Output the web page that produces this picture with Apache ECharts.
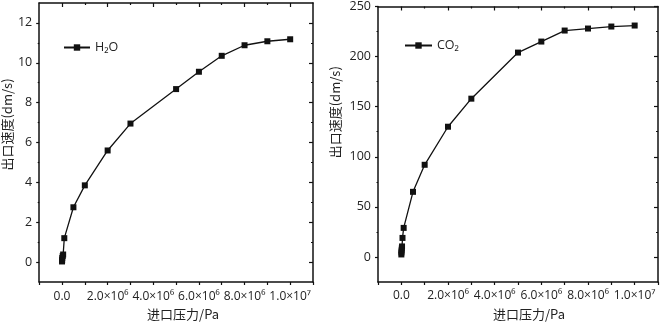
<!DOCTYPE html>
<html><head><meta charset="utf-8">
<script src="https://cdn.jsdelivr.net/npm/echarts@6/dist/echarts.min.js"></script>
<style>html,body{margin:0;padding:0;background:#fff}#c{width:661px;height:326px}</style>
</head><body><div id="c"></div>
<script>
// ---- data ----
const h2oPressure = [1e3, 5e3, 1e4, 3e4, 5e4, 1e5, 5e5, 1e6, 2e6, 3e6, 5e6, 6e6, 7e6, 8e6, 9e6, 1e7];
const h2oVelocity = [0.03, 0.1, 0.2, 0.3, 0.38, 1.2, 2.75, 3.85, 5.6, 6.95, 8.68, 9.55, 10.35, 10.88, 11.08, 11.18];
const co2Pressure = [1e3, 5e3, 1e4, 2e4, 3e4, 5e4, 1e5, 5e5, 1e6, 2e6, 3e6, 5e6, 6e6, 7e6, 8e6, 9e6, 1e7];
const co2Velocity = [2.5, 4.5, 6.5, 8.5, 10.5, 19, 29, 65, 92, 130, 158, 204, 215, 226, 228, 230, 231];

const xTickValues = [0, 2e6, 4e6, 6e6, 8e6, 1e7];
const xTickLabels = ['0.0', '2.0×10⁶', '4.0×10⁶', '6.0×10⁶', '8.0×10⁶', '1.0×10⁷'];
const xMinorValues = [1e6, 3e6, 5e6, 7e6, 9e6];
const h2oYTicks = [0, 2, 4, 6, 8, 10, 12];
const h2oYMinor = [1, 3, 5, 7, 9, 11];
const co2YTicks = [0, 50, 100, 150, 200, 250];
const co2YMinor = [25, 75, 125, 175, 225];

const xName = '进口压力/Pa';
const yName = '出口速度(dm/s)';

// ---- styling helpers ----
const FONT = '"Open Sans", "Noto Sans", sans-serif';
const CJK = '"Noto Sans CJK SC", sans-serif';
const black = '#111';
const lineW = 1.5;

function xAxes(g, nameGap, namePad, labelMargin) {
  return [
    { gridIndex: g, type: 'value', position: 'bottom', min: -1e6, max: 1.1e7, interval: 1e6,
      name: xName, nameLocation: 'middle', nameGap: nameGap,
      nameTextStyle: { fontFamily: CJK, fontSize: 13, color: '#222', padding: namePad },
      axisLine: { onZero: false, lineStyle: { color: black, width: lineW } },
      axisTick: { show: true, inside: false, length: 3, lineStyle: { color: black, width: 1.2 } },
      axisLabel: { margin: labelMargin, fontFamily: FONT, fontSize: 12, color: '#222', showMinLabel: true, showMaxLabel: true,
        formatter: v => { const i = xTickValues.indexOf(v); return i >= 0 ? xTickLabels[i] : ''; } },
      splitLine: { show: false } },
    { gridIndex: g, type: 'value', position: 'top', min: -1e6, max: 1.1e7, interval: 1e6,
      axisLine: { onZero: false, lineStyle: { color: black, width: lineW } },
      axisTick: { show: true, inside: true, length: 4, customValues: xTickValues, lineStyle: { color: black, width: 1.2 } },
      axisLabel: { show: false }, splitLine: { show: false } },
    { gridIndex: g, type: 'value', position: 'top', min: -1e6, max: 1.1e7, interval: 1e6,
      axisLine: { show: false, onZero: false },
      axisTick: { show: true, inside: true, length: 2, customValues: xMinorValues, lineStyle: { color: black, width: 1.2 } },
      axisLabel: { show: false }, splitLine: { show: false } }
  ];
}

function yAxes(g, min, max, interval, ticks, minor, nameGap, namePad) {
  const common = { gridIndex: g, type: 'value', min: min, max: max, interval: interval, splitLine: { show: false } };
  return [
    Object.assign({}, common, { position: 'left',
      name: yName, nameLocation: 'middle', nameGap: nameGap, nameRotate: 90,
      nameTextStyle: { fontFamily: CJK, fontSize: 13, color: '#222', padding: namePad },
      axisLine: { onZero: false, lineStyle: { color: black, width: lineW } },
      axisTick: { show: true, inside: false, length: 3, customValues: ticks, lineStyle: { color: black, width: 1.2 } },
      axisLabel: { margin: 7, fontFamily: FONT, fontSize: 12.5, color: '#222',
        formatter: v => ticks.indexOf(v) >= 0 ? String(v) : '' } }),
    Object.assign({}, common, { position: 'left',
      axisLine: { show: false, onZero: false },
      axisTick: { show: true, inside: false, length: 1.5, customValues: minor, lineStyle: { color: black, width: 1.2 } },
      axisLabel: { show: false } }),
    Object.assign({}, common, { position: 'right',
      axisLine: { onZero: false, lineStyle: { color: black, width: lineW } },
      axisTick: { show: true, inside: true, length: 4, customValues: ticks, lineStyle: { color: black, width: 1.2 } },
      axisLabel: { show: false } }),
    Object.assign({}, common, { position: 'right',
      axisLine: { show: false, onZero: false },
      axisTick: { show: true, inside: true, length: 2, customValues: minor, lineStyle: { color: black, width: 1.2 } },
      axisLabel: { show: false } })
  ];
}

function lineSeries(name, xs, ys, xi, yi) {
  return { name: name, type: 'line', xAxisIndex: xi, yAxisIndex: yi,
    data: xs.map((x, i) => [x, ys[i]]),
    symbol: 'rect', symbolSize: 6, showAllSymbol: true,
    lineStyle: { color: black, width: 1.3 }, itemStyle: { color: black },
    animation: false };
}

const chart = echarts.init(document.getElementById('c'), null, { renderer: 'canvas' });
chart.setOption({
  animation: false,
  backgroundColor: '#fff',
  grid: [
    { left: 33, top: 3, width: 280, height: 279 },
    { left: 378, top: 3, width: 282, height: 282 }
  ],
  legend: [
    { data: ['H₂O'], left: 58, top: 36, itemWidth: 26, itemHeight: 8, itemGap: 4,
      textStyle: { fontFamily: FONT, fontSize: 12.5, color: '#222' } },
    { data: ['CO₂'], left: 399, top: 34, itemWidth: 27, itemHeight: 8, itemGap: 4,
      textStyle: { fontFamily: FONT, fontSize: 12.5, color: '#222' } }
  ],
  xAxis: [].concat(xAxes(0, 24, [0, 0, 0, 14], 9), xAxes(1, 26, [0, 0, 0, 22], 8)),
  yAxis: [].concat(
    yAxes(0, -1, 13, 1, h2oYTicks, h2oYMinor, 21, [0, 0, 0, 36]),
    yAxes(1, -25, 250, 25, co2YTicks, co2YMinor, 36, [0, 0, 0, 64])
  ),
  series: [
    lineSeries('H₂O', h2oPressure, h2oVelocity, 0, 0),
    lineSeries('CO₂', co2Pressure, co2Velocity, 3, 4)
  ]
});
</script></body></html>
